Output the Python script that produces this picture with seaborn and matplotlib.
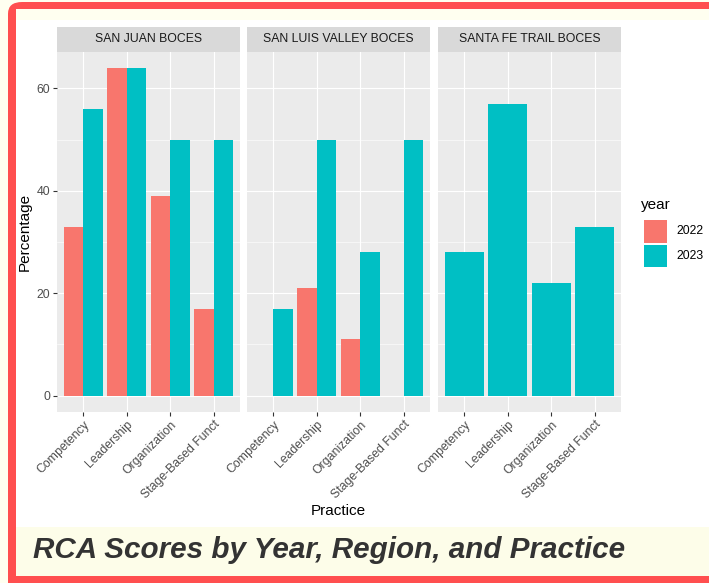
import matplotlib
matplotlib.use('Agg')
import matplotlib.pyplot as plt
import seaborn as sns
import pandas as pd
from matplotlib.patches import Rectangle, FancyBboxPatch
from matplotlib.ticker import MultipleLocator

# ---------------- data ----------------
regions = ['SAN JUAN BOCES', 'SAN LUIS VALLEY BOCES', 'SANTA FE TRAIL BOCES']
practices = ['Competency', 'Leadership', 'Organization', 'Stage-Based Funct']
years = ['2022', '2023']
sj_2022 = [33, 64, 39, 17]
sj_2023 = [56, 64, 50, 50]
slv_2022 = [0, 21, 11, 0]
slv_2023 = [17, 50, 28, 50]
sf_2023 = [28, 57, 22, 33]
yticks = [0, 20, 40, 60]

colors = {'2022': '#F8766D', '2023': '#00BFC4'}

rows = []
for p, a, b in zip(practices, sj_2022, sj_2023):
    rows.append((regions[0], p, '2022', a)); rows.append((regions[0], p, '2023', b))
for p, a, b in zip(practices, slv_2022, slv_2023):
    rows.append((regions[1], p, '2022', a)); rows.append((regions[1], p, '2023', b))
for p, b in zip(practices, sf_2023):
    rows.append((regions[2], p, '2023', b))
df = pd.DataFrame(rows, columns=['region', 'practice', 'year', 'value'])

plt.rcParams['font.family'] = ['Liberation Sans', 'DejaVu Sans']

W, H = 709, 583
fig = plt.figure(figsize=(W / 100, H / 100), dpi=100)
fig.patch.set_facecolor('#FFFFF0')

def fx(x):
    return x / W

def fy(y):
    return 1 - y / H

def prect(x0, y0, x1, y1, color, z):
    fig.add_artist(Rectangle((fx(x0), fy(y1)), fx(x1) - fx(x0), fy(y0) - fy(y1),
                             transform=fig.transFigure, facecolor=color, edgecolor='none',
                             zorder=z))

# red frame (filled, rounded top-left), then inner areas on top
fig.add_artist(FancyBboxPatch((fx(8), fy(700)), fx(900) - fx(8), fy(2) - fy(700),
                              boxstyle='round,pad=0,rounding_size=0.02',
                              transform=fig.transFigure, facecolor='#FF4F4F',
                              edgecolor='none', zorder=-3))
prect(16, 9, 709, 20, '#FFFFF0', -2)
prect(16, 20, 709, 527, 'white', -2)
prect(16, 527, 709, 576, '#FDFDE9', -2)

panel_x = [(57, 240), (247, 430), (438, 621)]
ptop, pbot = 51.5, 412
stop = 27

for i, (reg, (x0, x1)) in enumerate(zip(regions, panel_x)):
    ax = fig.add_axes([fx(x0), fy(pbot), fx(x1) - fx(x0), fy(ptop) - fy(pbot)])
    sub = df[df['region'] == reg]
    hue_order = [y for y in years if y in set(sub['year'])]
    sns.barplot(data=sub, x='practice', y='value', hue='year', hue_order=hue_order,
                order=practices, palette=colors, width=0.9, dodge=True, ax=ax,
                legend=False, linewidth=0, saturation=1, errorbar=None, zorder=3)
    ax.set_facecolor('#EBEBEB')
    for s in ax.spines.values():
        s.set_visible(False)
    ax.set_xlim(-0.6, 3.6)
    ax.set_ylim(-3.2, 67.2)
    ax.set_yticks(yticks)
    ax.yaxis.set_minor_locator(MultipleLocator(10))
    ax.grid(True, which='major', color='white', linewidth=0.8, zorder=0)
    ax.grid(True, which='minor', axis='y', color='white', linewidth=0.4, zorder=0)
    ax.set_axisbelow(True)
    ax.tick_params(axis='both', which='major', length=2.75, width=0.8, color='#333333',
                   labelcolor='#4D4D4D', labelsize=8.8, pad=2)
    ax.tick_params(axis='y', which='minor', length=0)
    ax.set_xticks(range(len(practices)))
    ax.set_xticklabels(practices, rotation=45, ha='right', rotation_mode='anchor')
    ax.set_xlabel('')
    ax.set_ylabel('')
    if i > 0:
        ax.tick_params(axis='y', left=False, labelleft=False)
    # strip
    sax = fig.add_axes([fx(x0), fy(ptop), fx(x1) - fx(x0), fy(stop) - fy(ptop)])
    sax.set_facecolor('#D9D9D9')
    sax.set_xticks([]); sax.set_yticks([])
    for s in sax.spines.values():
        s.set_visible(False)
    sax.text(0.5, 0.5, reg, ha='center', va='center', fontsize=8.8, color='#1A1A1A',
             transform=sax.transAxes)

# axis titles
fig.text(fx(338), fy(511), 'Practice', ha='center', va='center', fontsize=11, color='black')
fig.text(fx(25), fy(232), 'Percentage', ha='center', va='center', rotation=90,
         fontsize=11, color='black')

# legend
fig.text(fx(641), fy(205), 'year', ha='left', va='center', fontsize=11, color='black')
for k, (yr, ytop) in enumerate(zip(years, [220, 244.5])):
    prect(644, ytop, 667, ytop + 23, colors[yr], 2)
    fig.text(fx(676), fy(ytop + 11.5), yr, ha='left', va='center', fontsize=8.8, color='black')

# title
fig.text(fx(33), fy(550), 'RCA Scores by Year, Region, and Practice', ha='left', va='center',
         fontsize=21.3, fontweight='bold', fontstyle='italic', color='#333333')

fig.savefig('out.png', dpi=100, facecolor=fig.get_facecolor())
